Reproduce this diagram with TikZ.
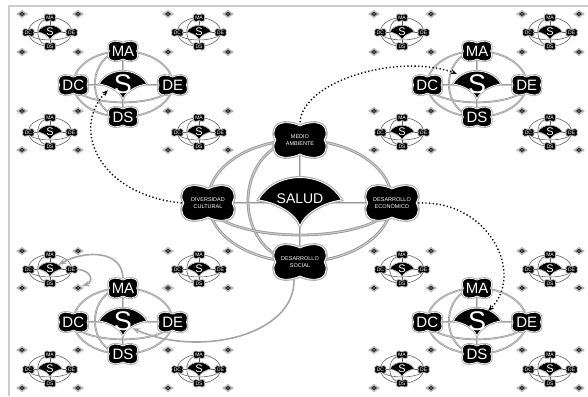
\documentclass[tikz,border=0pt]{standalone}
\usepackage{fontspec}
\setmainfont{Liberation Sans}
\usetikzlibrary{arrows.meta}
\tikzset{
  line-big/.style={draw=gray!80, line width=0.9pt, double=gray!40, double distance=1pt},
  line-med/.style={draw=gray!75, line width=0.65pt, double=gray!45, double distance=0.6pt},
  line-small/.style={draw=gray!70!black, line width=0.55pt},
  box-big/.style={fill=black, draw=white, line width=0.9pt, preaction={draw=gray!65, line width=3pt}},
  box-med/.style={fill=black, draw=white, line width=0.7pt, preaction={draw=gray!65, line width=2.3pt}},
  box-small/.style={fill=black, draw=white, line width=0.3pt, preaction={draw=gray!60, line width=1.1pt}},
  lab-big/.style={text=white, font=\fontsize{5.5}{6.3}\selectfont, align=center, inner sep=0pt, minimum width=52pt, minimum height=35pt},
  lab-med/.style={text=white, font=\fontsize{15}{15}\selectfont, inner sep=0pt, minimum width=29pt, minimum height=20pt},
  lab-small/.style={text=white, font=\fontsize{5}{5}\selectfont, inner sep=0pt, minimum width=10pt, minimum height=6.6pt},
  s-big/.style={text=white, font=\fontsize{14}{14}\selectfont, inner sep=0pt, minimum width=70pt, minimum height=30pt},
  s-med/.style={text=white, font=\fontsize{27}{27}\selectfont, inner sep=0pt, minimum width=40pt, minimum height=20pt},
  s-small/.style={text=white, font=\fontsize{11}{11}\selectfont, inner sep=0pt, minimum width=12pt, minimum height=6pt},
  dotarrow/.style={line width=1.4pt, dash pattern=on 1.3pt off 2.3pt, -{Stealth[length=6pt,width=5pt]}},
  grayarrow/.style={draw=gray!70, line width=1.6pt, -{Stealth[length=8pt,width=6pt]}},
  frameline/.style={draw=gray!40, line width=1.3pt},
}
\newcommand\pillow[5][]{\path[#1, shift={(#2,#3)}, xscale=#4, yscale=#5]
  (0,-0.78) .. controls (0.3,-1.0) and (0.95,-1.15) .. (1,-0.45)
  .. controls (1.03,-0.15) and (0.93,-0.1) .. (0.93,0)
  .. controls (0.93,0.1) and (1.03,0.15) .. (1,0.45)
  .. controls (0.95,1.15) and (0.3,1.0) .. (0,0.78)
  .. controls (-0.3,1.0) and (-0.95,1.15) .. (-1,0.45)
  .. controls (-1.03,0.15) and (-0.93,0.1) .. (-0.93,0)
  .. controls (-0.93,-0.1) and (-1.03,-0.15) .. (-1,-0.45)
  .. controls (-0.95,-1.15) and (-0.3,-1.0) .. (0,-0.78) -- cycle;}
\newcommand\leaf[4][]{\path[#1, shift={(#2,#3)}, scale=#4]
  (-1,0) .. controls (-0.6,-0.72) and (0.6,-0.72) .. (1,0)
  .. controls (0.6,0.05) and (0.12,0.3) .. (0,0.62)
  .. controls (-0.12,0.3) and (-0.6,0.05) .. (-1,0) -- cycle;}
\newcommand\motiflines[1]{%
  \draw[line-#1] (0,0) ellipse [x radius=92, y radius=61];
  \draw[line-#1] (0,-61) .. controls (-28.7,-61) and (-52,-33.7) .. (-52,0) .. controls (-52,33.7) and (-28.7,61) .. (0,61);
  \draw[line-#1] (-92,2) .. controls (-92,19.7) and (-50.8,34) .. (0,34) .. controls (50.8,34) and (92,19.7) .. (92,2);
  \draw[line-#1] (-92,2) -- (92,2);
  \draw[line-#1] (0,-61) -- (0,61);}
\newcommand\motif[8]{%
  \begin{scope}[shift={(#2,#3)}, scale=#4]
  \motiflines{#5}
  \pillow[box-#5]{0}{-61}{#6}{#7}
  \pillow[box-#5]{0}{61}{#6}{#7}
  \pillow[box-#5]{-92}{2}{#6}{#7}
  \pillow[box-#5]{92}{2}{#6}{#7}
  \leaf[box-#5]{0}{0}{#8}
  \node[lab-#5] (#1-MA) at (0,-61) {MA};
  \node[lab-#5] (#1-DS) at (0,61) {DS};
  \node[lab-#5] (#1-DC) at (-92,2) {DC};
  \node[lab-#5] (#1-DE) at (92,2) {DE};
  \node[s-#5] (#1-S) at (0,0) {S};
  \end{scope}}
\newcommand\orn[2]{%
  \begin{scope}[shift={(#1,#2)}]
  \fill[gray!50] (-4.2,0) circle (1.5) (4.2,0) circle (1.5) (0,-2.9) circle (1.3) (0,2.9) circle (1.3);
  \fill[gray!55] (-5.6,0) -- (0,-4) -- (5.6,0) -- (0,4) -- cycle;
  \fill[gray!35!black] (-3,0) -- (0,-2.2) -- (3,0) -- (0,2.2) -- cycle;
  \fill[gray!30] (0,0) circle (0.7);
  \end{scope}}
\begin{document}
\begin{tikzpicture}[x=1pt, y=-1pt]
\useasboundingbox (0,0) rectangle (588,396);
\fill[white] (0,0) rectangle (588,396);
\draw[frameline] (588,6) -- (9,6) -- (9,396);
% ornaments
\foreach \ox in {22,78,168,228,374,431,522,579}
  \foreach \oy in {14,52,111,150,251,288,350,388}
    {\orn{\ox}{\oy}}
% small motifs
\motif{s11}{50}{32}{0.235}{small}{24}{16}{52}
\motif{s12}{199}{32}{0.235}{small}{24}{16}{52}
\motif{s13}{402}{32}{0.235}{small}{24}{16}{52}
\motif{s14}{550}{32}{0.235}{small}{24}{16}{52}
\motif{s21}{50}{132}{0.235}{small}{24}{16}{52}
\motif{s22}{199}{132}{0.235}{small}{24}{16}{52}
\motif{s23}{402}{132}{0.235}{small}{24}{16}{52}
\motif{s24}{550}{132}{0.235}{small}{24}{16}{52}
\motif{s31}{50}{269}{0.235}{small}{24}{16}{52}
\motif{s32}{199}{269}{0.235}{small}{24}{16}{52}
\motif{s33}{402}{269}{0.235}{small}{24}{16}{52}
\motif{s34}{550}{269}{0.235}{small}{24}{16}{52}
\motif{s41}{50}{369}{0.235}{small}{24}{16}{52}
\motif{s42}{199}{369}{0.235}{small}{24}{16}{52}
\motif{s43}{402}{369}{0.235}{small}{24}{16}{52}
\motif{s44}{550}{369}{0.235}{small}{24}{16}{52}
% medium motifs
\motif{tl}{123}{84}{0.54}{med}{27}{19}{44}
\motif{tr}{477}{84}{0.54}{med}{27}{19}{44}
\motif{bl}{123}{321}{0.54}{med}{27}{19}{44}
\motif{br}{477}{321}{0.54}{med}{27}{19}{44}
% central motif
\begin{scope}[shift={(300,201)}]
  \motiflines{big}
  \pillow[box-big]{0}{-61}{26}{18}
  \pillow[box-big]{0}{61}{26}{18}
  \pillow[box-big]{-92}{2}{26}{18}
  \pillow[box-big]{92}{2}{26}{18}
  \leaf[box-big]{0}{-1}{41.5}
  \node[lab-big] (c-MA) at (0,-61) {MEDIO\\AMBIENTE};
  \node[lab-big] (c-DS) at (0,61) {DESARROLLO\\SOCIAL};
  \node[lab-big] (c-DC) at (-92,2) {DIVERSIDAD\\CULTURAL};
  \node[lab-big] (c-DE) at (92,2) {DESARROLLO\\ECONÓMICO};
  \node[s-big] (c-S) at (0,-2) {SALUD};
\end{scope}
% connectors
\draw[dotarrow] (c-MA.north) .. controls (303,80) and (400,53) .. (tr-S.north west);
\draw[dotarrow] (c-DC.west) .. controls (100,195) and (70,130) .. ([xshift=5pt,yshift=4pt]tl-S.south west);
\draw[dotarrow] (c-DE.east) .. controls (490,200) and (525,275) .. ([xshift=-9pt]br-S.north east);
\draw[grayarrow] ([xshift=-6pt]c-DS.south) .. controls (295,335) and (200,358) .. ([xshift=-11pt,yshift=3pt]bl-S.south east);
\draw[grayarrow] (bl-MA.north) .. controls (122,250) and (85,250) .. ([xshift=2pt]s31-S.north east);
\coordinate (orn-tip) at (82,286);
\draw[grayarrow] (s31-DE.east) .. controls (92,270) and (94,282) .. (orn-tip);
\end{tikzpicture}
\end{document}
